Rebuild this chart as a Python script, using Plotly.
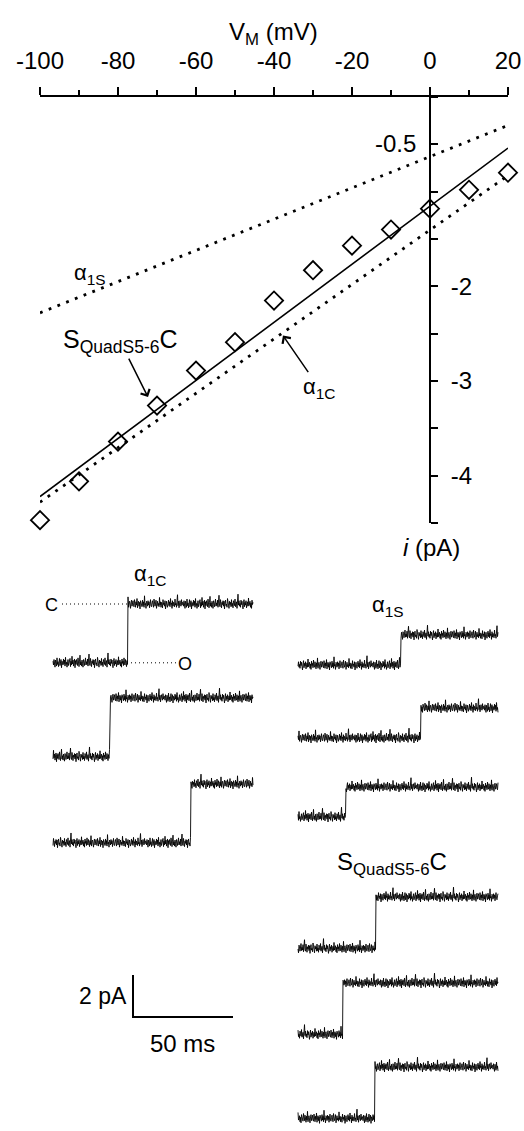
import plotly.graph_objects as go

W, H = 524, 1131
FONT = "Liberation Sans"

# ---------------- I-V data ----------------
v_mV = [-100, -90, -80, -70, -60, -50, -40, -30, -20, -10, 0, 10, 20]
i_squad_pA = [-4.47, -4.06, -3.64, -3.26, -2.89, -2.59, -2.15, -1.83, -1.57, -1.40, -1.18, -0.98, -0.80]
fit_v = [-100, 20]
fit_squad = [-4.22, -0.54]
fit_a1c = [-4.28, -0.83]
fit_a1s = [-2.28, -0.30]
x_tickvals = [-100, -80, -60, -40, -20, 0, 20]
x_ticktext = ["-100", "-80", "-60", "-40", "-20", "0", "20"]
y_tickvals = [-2, -3, -4]
y_ticktext = ["-2", "-3", "-4"]

# ---------------- single-channel traces ----------------
trace_duration_ms = 100
sample_ms = 0.25
a1c_step_ms = [37.5, 28.5, 69.0]
a1s_step_ms = [51.5, 61.5, 24.0]
squad_step_ms = [39.0, 22.5, 38.5]
a1c_amp_pA = 2.8
a1s_amp_pA = 1.43
squad_amp_pA = 2.45
scale_ms = 50
scale_pA = 2
noise_unit_pA = 0.026
noise = [3, -4, 6, -2, -8, 5, 1, -6, 9, -3, 2, -7, 4, 8, -5, -1, 6, -9, 3, 0,
         -4, 7, -2, 5, -6, 10, -3, 1, -8, 4, 6, -5, 2, -1, 8, -7, 3, -4, 12, -2,
         5, -6, 0, 7, -9, 4, -3, 6, 1, -5, 9, -2, -7, 3, 14, -4, 2, -6, 5, -1,
         -8, 6, 3, -5, 0, 9, -4, 2, -3, 7, -6, 4, 16, -2, -5, 8, 1, -7, 3, -1,
         6, -4, 5, -9, 2, 7, -3, 0, -6, 10, 4, -2, -8, 5, -1, 3, -5, 8, -4, 1,
         -7, 6, 2, -3, 9, -5, 0, 4, -8, 3, 18, -2, 6, -4, 1, -6, 7, -1, 5, -3,
         -9, 2, 8, -5, 3, -2, 6, -7, 1, 4, -4, 11, -3, 0, 5, -6, 2, -8, 7, -1,
         3, -5, 9, -2, -4, 6, 1, -7, 4, -3, 13, -6, 2, 5, -1, -8, 3, 7, -4, 0,
         6, -3, -5, 8, 2, -6, 4, -2, 10, -7, 1, 5, -4, 3, -9, 6, -1, 2, -5, 7,
         -3, 4, -6, 15, -2, 1, -8, 5, 3, -4, 6, -2, 4, -7, 1, 8, -3, -5, 2, 6,
         -1, -6, 9, 3, -4, 0, 7, -8, 2, 5, -3, 1, -5, 12, -2, 4, -6, 3, 0, -7,
         8, -1, 2, -4, 6, -9, 3, 5, -2, -6, 1, 7, -3, 4, -5, 10, -1, 2, -8, 6,
         -4, 3, 0, -5, 9, -2, 1, -6, 4, 17, -3, 5, -7, 2, 6, -1, -4, 8, -2, 3]

# ---------------- layout positions (pixels) ----------------
PX_PER_MS = 2.0
PX_PER_PA = 21.0
left_col_px = 53
right_col_px = 298
a1c_rows_px = [604, 698, 784]
a1s_rows_px = [635, 708, 787]
squad_rows_px = [897, 983, 1067]
noise_offsets = [0, 37, 74, 111, 148, 23, 59, 97, 131]
scalebar_origin_px = (133, 1017)


def px(x):
    return x / W


def py(y):
    return 1 - y / H


def ms_of(xpx):
    return xpx / PX_PER_MS


def pa_of(ypx):
    return (H - ypx) / PX_PER_PA


fig = go.Figure()

# I-V plot
dot_line = dict(color="black", width=2.8, dash="2.8px,6.6px")
fig.add_trace(go.Scatter(x=fit_v, y=fit_a1s, mode="lines", line=dot_line,
                         xaxis="x", yaxis="y", cliponaxis=False))
fig.add_trace(go.Scatter(x=fit_v, y=fit_a1c, mode="lines", line=dot_line,
                         xaxis="x", yaxis="y", cliponaxis=False))
fig.add_trace(go.Scatter(x=fit_v, y=fit_squad, mode="lines",
                         line=dict(color="black", width=1.6),
                         xaxis="x", yaxis="y", cliponaxis=False))
fig.add_trace(go.Scatter(x=v_mV, y=i_squad_pA, mode="markers",
                         marker=dict(symbol="diamond-open", size=14, color="black",
                                     line=dict(width=1.8, color="black")),
                         xaxis="x", yaxis="y", cliponaxis=False))

# single channel traces
n_samples = int(trace_duration_ms / sample_ms) + 1
t_rel = [k * sample_ms for k in range(n_samples)]


def add_channel(col_px, row_px, step_ms, amp, k):
    t0 = ms_of(col_px)
    closed = pa_of(row_px)
    xs, ys = [], []
    off = noise_offsets[k]
    for j, t in enumerate(t_rel):
        lvl = closed if t >= step_ms else closed - amp
        xs.append(t0 + t)
        ys.append(lvl + noise[(off + j) % len(noise)] * noise_unit_pA)
    fig.add_trace(go.Scatter(x=xs, y=ys, mode="lines",
                             line=dict(color="black", width=0.9),
                             xaxis="x2", yaxis="y2", cliponaxis=False))


k = 0
for r, s in zip(a1c_rows_px, a1c_step_ms):
    add_channel(left_col_px, r, s, a1c_amp_pA, k); k += 1
for r, s in zip(a1s_rows_px, a1s_step_ms):
    add_channel(right_col_px, r, s, a1s_amp_pA, k); k += 1
for r, s in zip(squad_rows_px, squad_step_ms):
    add_channel(right_col_px, r, s, squad_amp_pA, k); k += 1

# C / O dotted reference lines
c_level = pa_of(a1c_rows_px[0])
fig.add_trace(go.Scatter(x=[ms_of(62), ms_of(128)], y=[c_level, c_level], mode="lines",
                         line=dict(color="black", width=1, dash="1px,3px"),
                         xaxis="x2", yaxis="y2"))
o_level = c_level - a1c_amp_pA
fig.add_trace(go.Scatter(x=[ms_of(131), ms_of(177)], y=[o_level, o_level], mode="lines",
                         line=dict(color="black", width=1, dash="1px,3px"),
                         xaxis="x2", yaxis="y2"))

# scale bar
sx0 = ms_of(scalebar_origin_px[0])
sy0 = pa_of(scalebar_origin_px[1])
fig.add_trace(go.Scatter(x=[sx0, sx0, sx0 + scale_ms], y=[sy0 + scale_pA, sy0, sy0],
                         mode="lines", line=dict(color="black", width=2),
                         xaxis="x2", yaxis="y2"))

annotations = [
    dict(text="V<sub>M</sub> (mV)", x=px(273), y=py(34), font=dict(size=24)),
    dict(text="-0.5", x=px(418), y=py(144), xanchor="right", font=dict(size=24)),
    dict(text="<i>i</i> (pA)", x=px(431), y=py(547), font=dict(size=24)),
    dict(text="α<sub>1S</sub>", x=px(90), y=py(274), font=dict(size=22)),
    dict(text="α<sub>1C</sub>", x=px(150), y=py(575), font=dict(size=22)),
    dict(text="α<sub>1S</sub>", x=px(388), y=py(606), font=dict(size=22)),
    dict(text="S<sub>QuadS5-6</sub>C", x=px(392), y=py(864), font=dict(size=24)),
    dict(text="C", x=px(51), y=py(605), font=dict(size=18)),
    dict(text="O", x=px(185), y=py(664), font=dict(size=18)),
    dict(text="2 pA", x=px(103), y=py(996), font=dict(size=23)),
    dict(text="50 ms", x=px(182), y=py(1043), font=dict(size=24)),
]
for a in annotations:
    a.update(xref="paper", yref="paper", showarrow=False)
    a.setdefault("xanchor", "center")
    a["yanchor"] = "middle"
    a["font"].update(family=FONT, color="black")

# labels with arrows (head at data point, text offset in pixels)
arrow_labels = [
    dict(text="S<sub>QuadS5-6</sub>C", x=-72.3, y=-3.17, ax=-28, ay=-56, size=25),
    dict(text="α<sub>1C</sub>", x=-37.7, y=-2.52, ax=36, ay=52, size=22),
]
for a in arrow_labels:
    size = a.pop("size")
    annotations.append(dict(xref="x", yref="y", showarrow=True, arrowhead=4,
                            arrowsize=1.3, arrowwidth=1.5, arrowcolor="black",
                            font=dict(family=FONT, size=size, color="black"), **a))

axis_font = dict(family=FONT, size=24, color="black")
fig.update_layout(
    width=W, height=H,
    margin=dict(l=0, r=0, t=0, b=0, autoexpand=False),
    paper_bgcolor="white", plot_bgcolor="rgba(0,0,0,0)",
    showlegend=False,
    font=dict(family=FONT, color="black"),
    xaxis=dict(domain=[px(40), px(508)], range=[-100, 20], side="top", anchor="y",
               showline=True, linecolor="black", linewidth=2, ticks="outside",
               tickvals=x_tickvals, ticktext=x_ticktext, ticklen=8, tickwidth=2, tickcolor="black",
               minor=dict(dtick=10, tick0=0, ticklen=5, tickwidth=2, tickcolor="black", ticks="outside"),
               showgrid=False, zeroline=False, tickfont=axis_font, ticklabelstandoff=8,
               automargin=False, fixedrange=True),
    yaxis=dict(domain=[py(523), py(97)], range=[-4.5, 0], anchor="free", position=px(430),
               side="right", showline=True, linecolor="black", linewidth=2, ticks="outside",
               tickvals=y_tickvals, ticktext=y_ticktext, ticklen=7, tickwidth=2,
               tickcolor="black",
               minor=dict(dtick=0.5, tick0=0, ticklen=7, tickwidth=2, tickcolor="black", ticks="outside"),
               showgrid=False, zeroline=False, tickfont=axis_font,
               ticklabelstandoff=8, automargin=False, fixedrange=True),
    xaxis2=dict(domain=[0, 1], range=[0, W / PX_PER_MS], anchor="y2", visible=False,
                automargin=False),
    yaxis2=dict(domain=[0, 1], range=[0, H / PX_PER_PA], anchor="x2", visible=False,
                automargin=False),
    annotations=annotations,
)

fig.write_html("out.html", config={"displayModeBar": False},
               post_script="document.body.style.margin='0';document.body.style.overflow='hidden';")
